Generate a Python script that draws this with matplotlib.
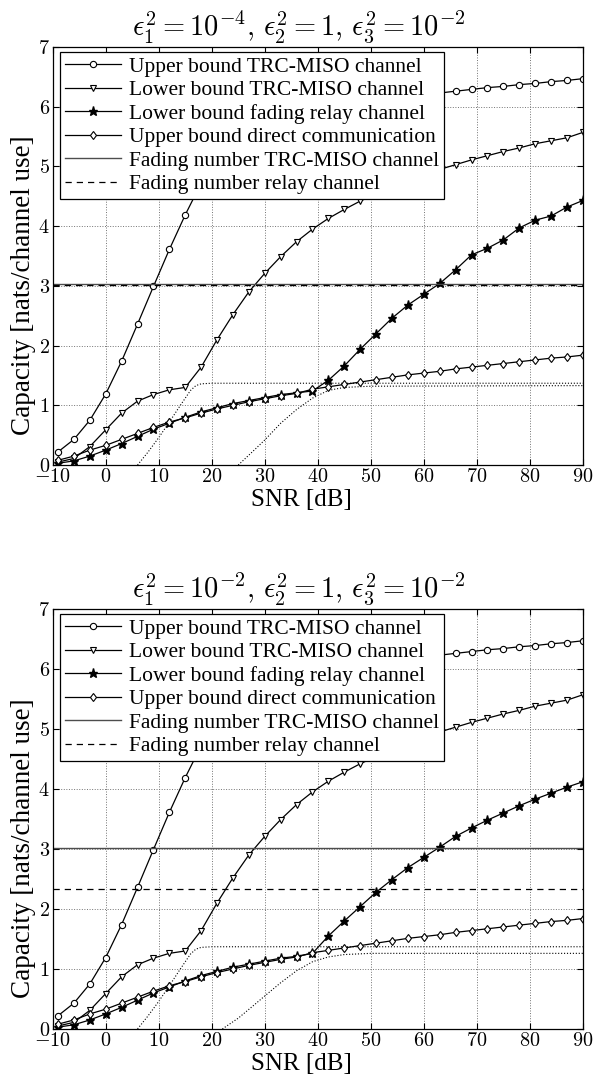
import numpy as np
import matplotlib
matplotlib.use('Agg')
import matplotlib.pyplot as plt
from matplotlib.ticker import FuncFormatter

plt.rcParams['font.family'] = ['Liberation Serif', 'DejaVu Serif']
plt.rcParams['mathtext.fontset'] = 'cm'

# SNR grid [dB]
snr = [-9, -6, -3, 0, 3, 6, 9, 12, 15, 18, 21, 24, 27, 30, 33, 36, 39,
       42, 45, 48, 51, 54, 57, 60, 63, 66, 69, 72, 75, 78, 81, 84, 87, 90]

ub_trc = [0.22, 0.43, 0.75, 1.19, 1.74, 2.36, 2.99, 3.61, 4.19, 4.72,
          5.15, 5.45, 5.65, 5.78, 5.87, 5.93, 5.98, 6.02, 6.05, 6.08,
          6.11, 6.14, 6.17, 6.20, 6.23, 6.26, 6.29, 6.32, 6.34, 6.37,
          6.39, 6.42, 6.44, 6.47]
lb_trc = [0.05, 0.11, 0.31, 0.59, 0.87, 1.07, 1.18, 1.26, 1.30, 1.64,
          2.10, 2.52, 2.90, 3.21, 3.49, 3.74, 3.95, 4.13, 4.28, 4.42,
          4.54, 4.65, 4.76, 4.86, 4.95, 5.03, 5.11, 5.18, 5.25, 5.31,
          5.38, 5.43, 5.48, 5.57]
lb_relay_1 = [0.03, 0.07, 0.15, 0.25, 0.36, 0.48, 0.60, 0.70, 0.80, 0.89,
              0.96, 1.03, 1.08, 1.13, 1.18, 1.21, 1.24, 1.42, 1.66, 1.94,
              2.20, 2.46, 2.68, 2.86, 3.04, 3.27, 3.52, 3.63, 3.77, 3.97,
              4.10, 4.17, 4.32, 4.43]
lb_relay_2 = [0.03, 0.07, 0.15, 0.25, 0.36, 0.48, 0.60, 0.70, 0.80, 0.89,
              0.96, 1.03, 1.08, 1.13, 1.18, 1.21, 1.26, 1.55, 1.80, 2.04,
              2.28, 2.49, 2.69, 2.86, 3.03, 3.21, 3.35, 3.48, 3.60, 3.72,
              3.83, 3.93, 4.03, 4.12]
ub_direct = [0.08, 0.15, 0.25, 0.33, 0.43, 0.53, 0.63, 0.72, 0.79, 0.87,
             0.94, 1.00, 1.06, 1.11, 1.16, 1.20, 1.27, 1.31, 1.35, 1.39,
             1.43, 1.47, 1.51, 1.54, 1.57, 1.61, 1.64, 1.67, 1.70, 1.73,
             1.76, 1.79, 1.81, 1.84]

fading_trc = [3.03, 3.02]
fading_relay = [3.01, 2.33]

# unlabelled dotted asymptotic curves
dotA_x = [6, 8, 10, 12, 14, 16, 17, 18, 20, 90]
dotA_y = [0, 0.22, 0.46, 0.72, 0.99, 1.25, 1.33, 1.36, 1.37, 1.37]
dotB_x_1 = [25, 28, 30, 33, 36, 39, 42, 45, 50, 90]
dotB_y_1 = [0, 0.25, 0.42, 0.7, 0.93, 1.12, 1.25, 1.3, 1.32, 1.33]
dotB_x_2 = [22, 25, 28, 30, 33, 36, 39, 42, 45, 50, 90]
dotB_y_2 = [0, 0.18, 0.4, 0.55, 0.77, 0.97, 1.12, 1.2, 1.24, 1.26, 1.26]

titles = [r'$\epsilon_1^2 = 10^{-4},\, \epsilon_2^2 = 1,\, \epsilon_3^2 = 10^{-2}$',
          r'$\epsilon_1^2 = 10^{-2},\, \epsilon_2^2 = 1,\, \epsilon_3^2 = 10^{-2}$']

fig = plt.figure(figsize=(5.95, 10.78), dpi=100)
ax1 = fig.add_axes([0.0886, 0.5686, 0.891, 0.3878])
ax2 = fig.add_axes([0.0886, 0.0455, 0.891, 0.3896])

relay_sets = [lb_relay_1, lb_relay_2]
dotB = [(dotB_x_1, dotB_y_1), (dotB_x_2, dotB_y_2)]

for i, ax in enumerate([ax1, ax2]):
    mk = dict(color='k', lw=0.9, markerfacecolor='white', markeredgecolor='k', markeredgewidth=0.8)
    ax.plot(dotA_x, dotA_y, color='k', ls=':', lw=0.8, zorder=1)
    ax.plot(dotB[i][0], dotB[i][1], color='k', ls=':', lw=0.8, zorder=1)
    ax.plot(snr, ub_trc, marker='o', ms=4.5, label='Upper bound TRC-MISO channel', **mk)
    ax.plot(snr, lb_trc, marker='v', ms=5, label='Lower bound TRC-MISO channel', **mk)
    ax.plot(snr, relay_sets[i], marker='*', ms=6.5, color='k', lw=0.9,
            markerfacecolor='k', markeredgecolor='k', label='Lower bound fading relay channel')
    ax.plot(snr, ub_direct, marker='d', ms=4.5, label='Upper bound direct communication', **mk)
    ax.axhline(fading_trc[i], color='0.3', lw=1.0, label='Fading number TRC-MISO channel')
    ax.axhline(fading_relay[i], color='k', ls=(0, (5, 4)), lw=0.9, label='Fading number relay channel')

    ax.set_xlim(-10, 90)
    ax.set_ylim(0, 7)
    ax.set_xticks(range(-10, 91, 10))
    ax.set_yticks(range(0, 8))
    fmt = FuncFormatter(lambda v, p: r'$%d$' % v)
    ax.xaxis.set_major_formatter(fmt)
    ax.yaxis.set_major_formatter(fmt)
    ax.tick_params(direction='in', top=True, right=True, labelsize=14.5, length=4, pad=2)
    ax.grid(True, ls=':', color='0.45', lw=0.7)
    for s in ax.spines.values():
        s.set_linewidth(0.9)
    ax.set_xlabel('SNR [dB]', fontsize=18, va='top')
    ax.xaxis.set_label_coords(0.47, -0.058, transform=ax.transAxes)
    ax.set_ylabel('Capacity [nats/channel use]', fontsize=19.5)
    ax.yaxis.set_label_coords(-0.032, 0.43, transform=ax.transAxes)
    ax.set_title(titles[i], fontsize=20.5, pad=8, x=0.465)
    leg = ax.legend(loc='upper left', bbox_to_anchor=(0.014, 0.988), borderaxespad=0,
                    fontsize=15.5, fancybox=False, framealpha=1, edgecolor='k',
                    handlelength=2.6, handletextpad=0.4, labelspacing=0.16,
                    borderpad=0.22)
    leg.get_frame().set_linewidth(0.9)

fig.savefig('out.png', dpi=100)
